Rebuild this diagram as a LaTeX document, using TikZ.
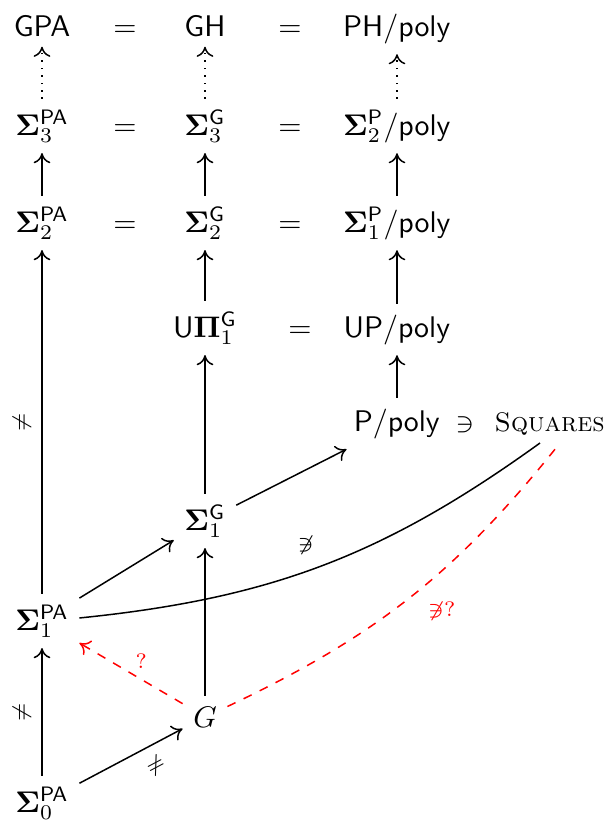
\documentclass[tikz,border=0pt]{standalone}
\usepackage{amsmath}
\usetikzlibrary{arrows.meta}
\begin{document}
\begin{tikzpicture}[x=0.335pt,y=0.335pt,line width=0.5pt,
  nd/.style={anchor=base},
  ar/.style={-{To[length=3.4pt,width=5.6pt]}},
  dt/.style={ar,dotted},
  rd/.style={red,dashed},
  lab/.style={font=\scriptsize}]
\useasboundingbox (0,0) rectangle (605,-825);
% row 1
\node[nd] (gpa) at (42,-36) {$\mathsf{GPA}$};
\node[nd] (e11) at (125,-36) {$=$};
\node[nd] (gh) at (205,-36) {$\mathsf{GH}$};
\node[nd] (e12) at (290,-36) {$=$};
\node[nd] (phpoly) at (397,-36) {$\mathsf{PH}/\mathsf{poly}$};
% row 2
\node[nd] (s3pa) at (42,-135) {$\mathbf{\Sigma}_3^{\mathsf{PA}}$};
\node[nd] (e21) at (125,-135) {$=$};
\node[nd] (s3g) at (205,-135) {$\mathbf{\Sigma}_3^{\mathsf{G}}$};
\node[nd] (e22) at (290,-135) {$=$};
\node[nd] (s2p) at (397,-135) {$\mathbf{\Sigma}_2^{\mathsf{P}}/\mathsf{poly}$};
% row 3
\node[nd] (s2pa) at (42,-232) {$\mathbf{\Sigma}_2^{\mathsf{PA}}$};
\node[nd] (e31) at (125,-232) {$=$};
\node[nd] (s2g) at (205,-232) {$\mathbf{\Sigma}_2^{\mathsf{G}}$};
\node[nd] (e32) at (290,-232) {$=$};
\node[nd] (s1p) at (397,-232) {$\mathbf{\Sigma}_1^{\mathsf{P}}/\mathsf{poly}$};
% row 4
\node[nd] (upi) at (205,-337) {$\mathsf{U}\mathbf{\Pi}_1^{\mathsf{G}}$};
\node[nd] (e41) at (300,-337) {$=$};
\node[nd] (uppoly) at (397,-337) {$\mathsf{UP}/\mathsf{poly}$};
% row 5
\node[nd] (ppoly) at (397,-431) {$\mathsf{P}/\mathsf{poly}$};
\node[anchor=base west, inner sep=0pt, font=\small] (sq) at (455,-431) {$\ni$ \hspace{3.8pt}\textsc{Squares}};
\coordinate (sqa) at (540,-443);
\coordinate (sqb) at (560,-443);
% rows 6-9
\node[nd] (s1g) at (205,-530) {$\mathbf{\Sigma}_1^{\mathsf{G}}$};
\node[nd] (s1pa) at (42,-630) {$\mathbf{\Sigma}_1^{\mathsf{PA}}$};
\node[nd] (g) at (205,-727) {$G$};
\node[nd] (s0) at (42,-812) {$\mathbf{\Sigma}_0^{\mathsf{PA}}$};
% arrows
\draw[ar] (s0) -- node[lab,sloped,above]{$\neq$} (s1pa);
\draw[ar] (s0) -- node[lab,sloped,below,pos=0.65]{$\neq$} (g);
\draw[ar] (s1pa) -- node[lab,sloped,above]{$\neq$} (s2pa);
\draw[ar] (s1pa) -- (s1g);
\draw[ar] (g) -- (s1g);
\draw[ar] (s1g) -- (upi);
\draw[ar] (s1g) -- (ppoly);
\draw[ar] (upi) -- (s2g);
\draw[ar] (s2g) -- (s3g);
\draw[dt] (s3g) -- (gh);
\draw[ar] (s2pa) -- (s3pa);
\draw[dt] (s3pa) -- (gpa);
\draw[ar] (ppoly) -- (uppoly);
\draw[ar] (uppoly) -- (s1p);
\draw[ar] (s1p) -- (s2p);
\draw[dt] (s2p) -- (phpoly);
\draw (s1pa) to[bend right=15] node[lab,pos=0.46,above=2pt]{$\not\ni$} (sqa);
\draw[rd,ar] (g) -- node[lab,pos=0.4,above]{$?$} (s1pa);
\draw[rd] (g) to[bend right=13] node[lab,pos=0.52,below right]{$\not\ni?$} (sqb);
\end{tikzpicture}
\end{document}
